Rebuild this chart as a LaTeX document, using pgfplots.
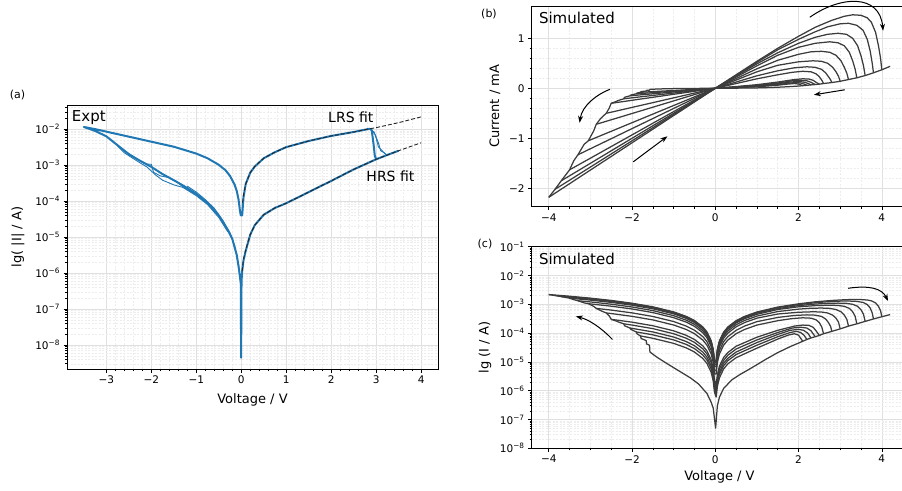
\documentclass[border=0pt]{standalone}
\usepackage{fontspec}
\setmainfont{DejaVu Sans}
\usepackage{pgfplots}
\usepackage{pgfplotstable}
\pgfplotsset{compat=1.18}
\usetikzlibrary{arrows.meta}
\definecolor{mplblue}{HTML}{1F77B4}
\definecolor{simgray}{HTML}{3C3C3C}
\newcommand{\tp}[1]{10\textsuperscript{−#1}}
\def\dec#1{2e#1,3e#1,4e#1,5e#1,6e#1,7e#1,8e#1,9e#1}
\edef\minorA{3e-9,4e-9,5e-9,6e-9,7e-9,8e-9,9e-9,\dec{-8},\dec{-7},\dec{-6},\dec{-5},\dec{-4},\dec{-3},2e-2,3e-2,4e-2}
\edef\minorC{\dec{-8},\dec{-7},\dec{-6},\dec{-5},\dec{-4},\dec{-3},\dec{-2}}

\tikzset{arr/.style={black, line width=1pt, -{Stealth[length=7pt,width=5pt]}}}
\pgfplotsset{
  myaxis/.style={
    scale only axis, clip=false,
    axis line style={black, line width=0.8pt},
    tick align=outside, tick pos=left,
    major tick length=3.5pt, minor tick length=2pt,
    tick style={black, line width=0.6pt},
    grid=both,
    major grid style={draw=black!12, line width=0.6pt},
    minor grid style={draw=black!7, dash pattern=on 2pt off 1.5pt, line width=0.5pt},
    tick label style={font=\fontsize{10.5}{12}\selectfont},
    label style={font=\fontsize{13}{15}\selectfont},
  },
  blueline/.style={draw=mplblue, line width=2pt, line join=round, no markers},
  bluethin/.style={draw=mplblue, line width=0.9pt, line join=round, no markers},
  fitline/.style={draw=black!85, line width=0.9pt, dash pattern=on 4pt off 2pt, no markers},
  simb/.style={draw=simgray, line width=1.25pt, line join=round, no markers},
  simc/.style={draw=simgray, line width=1.25pt, line join=round, no markers},
}

% ---------------- panel (a) data (current in A) ----------------
\pgfplotstableread{
V I
3.5 2.51e-3
3.25 1.92e-3
3.0 1.45e-3
2.5 7.59e-4
2.0 3.63e-4
1.5 1.78e-4
1.0 8.71e-5
0.75 6.46e-5
0.5 4.17e-5
0.3 2.14e-5
0.2 1.17e-5
0.1 4.17e-6
0.05 2.24e-6
0.02 1.12e-6
0.006 6.0e-7
-0.003 4.4e-9
-0.01 5.01e-7
-0.05 1.26e-6
-0.1 3.16e-6
-0.2 8.91e-6
-0.3 1.58e-5
-0.5 3.98e-5
-0.75 8.91e-5
-1.0 1.58e-4
-1.25 2.51e-4
-1.5 3.80e-4
-1.75 5.62e-4
-2.0 8.91e-4
-2.25 1.32e-3
-2.5 2.0e-3
-2.75 3.55e-3
-3.0 6.31e-3
-3.25 8.91e-3
-3.5 1.148e-2
-3.25 1.0e-2
-3.0 8.51e-3
-2.5 6.17e-3
-2.0 4.47e-3
-1.5 3.24e-3
-1.0 2.09e-3
-0.75 1.55e-3
-0.5 1.02e-3
-0.35 7.2e-4
-0.25 5.0e-4
-0.15 2.9e-4
-0.1 1.9e-4
-0.06 1.1e-4
-0.03 5.5e-5
-0.01 4.0e-5
0.02 4.0e-5
0.05 1.26e-4
0.1 3.02e-4
0.2 6.17e-4
0.3 9.12e-4
0.5 1.55e-3
0.75 2.29e-3
1.0 3.16e-3
1.5 4.68e-3
2.0 6.46e-3
2.5 8.32e-3
2.85 1.02e-2
2.9 9.5e-3
2.94 4.0e-3
2.97 1.8e-3
3.0 1.45e-3
}\aMain
\pgfplotstableread{
V I
-2.75 3.55e-3
-2.5 2.1e-3
-2.3 1.41e-3
-2.1 1.07e-3
-2.0 1.05e-3
-1.95 6.31e-4
-1.8 5.01e-4
-1.6 4.47e-4
-1.45 3.55e-4
-1.3 2.51e-4
-1.0 1.51e-4
-0.75 8.5e-5
}\aVarA
\pgfplotstableread{
V I
-2.75 3.4e-3
-2.6 2.19e-3
-2.3 1.26e-3
-2.1 8.91e-4
-1.9 5.25e-4
-1.75 3.80e-4
-1.5 2.82e-4
-1.3 2.40e-4
-1.0 1.41e-4
-0.75 8.0e-5
-0.5 3.5e-5
-0.3 1.4e-5
}\aVarB
\pgfplotstableread{
V I
-1.2 2.6e-4
-1.0 1.78e-4
-0.8 1.1e-4
-0.6 6.3e-5
-0.4 2.8e-5
-0.25 1.3e-5
-0.15 6.0e-6
-0.05 1.5e-6
}\aVarC
\pgfplotstableread{
V I
2.85 1.0e-2
2.95 8.5e-3
3.0 5.6e-3
3.05 3.2e-3
3.12 2.6e-3
3.2 2.05e-3
3.25 1.92e-3
}\aResB
\pgfplotstableread{
V I
2.88 9.8e-3
2.98 7.0e-3
3.06 3.8e-3
3.1 2.5e-3
3.18 2.2e-3
3.22 1.95e-3
}\aResC
\pgfplotstableread{
V I
0.03 9.1e-5
0.05 1.51e-4
0.1 3.02e-4
0.2 6.17e-4
0.3 9.12e-4
0.5 1.55e-3
0.75 2.29e-3
1.0 3.16e-3
1.5 4.68e-3
2.0 6.46e-3
2.5 8.32e-3
2.85 1.02e-2
3.0 1.1e-2
3.25 1.29e-2
3.5 1.51e-2
3.75 1.82e-2
4.0 2.19e-2
}\aLfit
\pgfplotstableread{
V I
0.02 1.12e-6
0.05 2.4e-6
0.1 4.47e-6
0.2 1.17e-5
0.3 2.14e-5
0.5 4.17e-5
0.75 6.46e-5
1.0 8.71e-5
1.5 1.78e-4
2.0 3.63e-4
2.5 7.59e-4
3.0 1.45e-3
3.5 2.51e-3
3.75 3.24e-3
4.0 4.17e-3
}\aHfit

% ---------------- panels (b),(c) data (current in mA) ----------------
\pgfplotstableread{
V I
4.2 0.44
4.0 0.37
3.8 0.31
3.6 0.255
3.4 0.21
3.2 0.175
3.0 0.14
2.8 0.115
2.6 0.095
2.5 0.083
2.4 0.075
2.3 0.068
2.2 0.06
2.1 0.052
2.0 0.045
1.8 0.034
1.5 0.021
1.2 0.012
1.0 0.008
0.8 0.0054
0.6 0.0037
0.4 0.0024
0.2 0.0012
0.1 0.0006
0.05 0.0003
0.008 0.00005
-0.05 -0.00025
-0.1 -0.0004
-0.2 -0.0008
-0.4 -0.0017
-0.6 -0.0028
-0.8 -0.0042
-1.0 -0.0063
-1.2 -0.0095
-1.4 -0.0145
-1.57 -0.022
-1.58 -0.038
-1.65 -0.042
-1.66 -0.055
-1.78 -0.065
-1.80 -0.080
-1.88 -0.095
-1.90 -0.110
-2.03 -0.135
-2.05 -0.150
-2.18 -0.18
-2.20 -0.21
-2.35 -0.25
-2.37 -0.26
-2.50 -0.30
-2.55 -0.40
-2.62 -0.50
-2.75 -0.60
-2.86 -0.72
-2.92 -0.85
-3.05 -1.05
-3.15 -1.12
-3.3 -1.33
-3.4 -1.45
-3.5 -1.63
-3.7 -1.85
-3.85 -2.02
-4.0 -2.18
}\sHRS
\pgfplotstableread{
V I
-4.0 -2.18
-3.5 -1.908
-3.0 -1.635
-2.5 -1.363
-2.0 -1.09
-1.5 -0.818
-1.0 -0.545
-0.7 -0.382
-0.5 -0.273
-0.3 -0.164
-0.2 -0.109
-0.1 -0.0545
-0.05 -0.0273
-0.02 -0.0109
0.02 0.0109
0.05 0.027
0.1 0.054
0.2 0.108
0.3 0.162
0.5 0.27
0.7 0.378
1.0 0.54
1.5 0.80
2.0 1.04
2.4 1.22
2.8 1.36
3.1 1.44
3.3 1.47
3.5 1.46
3.65 1.41
3.75 1.32
3.85 1.12
3.92 0.85
3.97 0.6
4.0 0.37
}\sA
\pgfplotstableread{
V I
-3.85 -2.02
-3.5 -1.838
-3.0 -1.575
-2.5 -1.313
-2.0 -1.05
-1.5 -0.788
-1.0 -0.525
-0.7 -0.368
-0.5 -0.263
-0.3 -0.158
-0.2 -0.105
-0.1 -0.0525
-0.05 -0.0263
-0.02 -0.0105
0.02 0.0105
0.05 0.026
0.1 0.052
0.2 0.104
0.3 0.156
0.5 0.26
0.7 0.364
1.0 0.52
1.5 0.77
2.0 0.98
2.4 1.13
2.7 1.23
3.0 1.29
3.2 1.30
3.4 1.26
3.55 1.16
3.65 0.98
3.72 0.75
3.77 0.5
3.8 0.31
}\sB
\pgfplotstableread{
V I
-3.7 -1.85
-3.5 -1.75
-3.0 -1.5
-2.5 -1.25
-2.0 -1.0
-1.5 -0.75
-1.0 -0.5
-0.7 -0.35
-0.5 -0.25
-0.3 -0.15
-0.2 -0.1
-0.1 -0.05
-0.05 -0.025
-0.02 -0.01
0.02 0.01
0.05 0.0245
0.1 0.049
0.2 0.098
0.3 0.147
0.5 0.245
0.7 0.343
1.0 0.49
1.5 0.71
2.0 0.9
2.4 1.02
2.7 1.08
2.95 1.10
3.15 1.08
3.3 1.0
3.42 0.85
3.5 0.65
3.56 0.45
3.6 0.255
}\sC
\pgfplotstableread{
V I
-3.5 -1.63
-3.0 -1.398
-2.5 -1.165
-2.0 -0.932
-1.5 -0.699
-1.0 -0.466
-0.7 -0.326
-0.5 -0.233
-0.3 -0.14
-0.2 -0.0932
-0.1 -0.0466
-0.05 -0.0233
-0.02 -0.0093
0.02 0.0093
0.05 0.0225
0.1 0.045
0.2 0.09
0.3 0.135
0.5 0.225
0.7 0.315
1.0 0.45
1.5 0.66
2.0 0.82
2.4 0.9
2.75 0.93
2.95 0.91
3.1 0.85
3.22 0.72
3.3 0.55
3.36 0.38
3.4 0.21
}\sD
\pgfplotstableread{
V I
-3.3 -1.33
-3.0 -1.209
-2.5 -1.008
-2.0 -0.806
-1.5 -0.605
-1.0 -0.403
-0.7 -0.282
-0.5 -0.202
-0.3 -0.121
-0.2 -0.0806
-0.1 -0.0403
-0.05 -0.0202
-0.02 -0.0081
0.02 0.0081
0.05 0.0195
0.1 0.039
0.2 0.078
0.3 0.117
0.5 0.195
0.7 0.273
1.0 0.39
1.5 0.56
2.0 0.68
2.3 0.73
2.55 0.74
2.75 0.72
2.9 0.66
3.02 0.55
3.1 0.42
3.16 0.3
3.2 0.175
}\sE
\pgfplotstableread{
V I
-3.05 -1.05
-3.0 -1.032
-2.5 -0.86
-2.0 -0.688
-1.5 -0.516
-1.0 -0.344
-0.7 -0.241
-0.5 -0.172
-0.3 -0.103
-0.2 -0.0688
-0.1 -0.0344
-0.05 -0.0172
-0.02 -0.0069
0.02 0.0069
0.05 0.0165
0.1 0.033
0.2 0.066
0.3 0.099
0.5 0.165
0.7 0.231
1.0 0.33
1.5 0.46
2.0 0.53
2.35 0.55
2.55 0.54
2.7 0.5
2.82 0.42
2.9 0.33
2.96 0.24
3.0 0.14
}\sF
\pgfplotstableread{
V I
-2.86 -0.72
-2.5 -0.63
-2.0 -0.504
-1.5 -0.378
-1.0 -0.252
-0.7 -0.176
-0.5 -0.126
-0.3 -0.0756
-0.2 -0.0504
-0.1 -0.0252
-0.05 -0.0126
-0.02 -0.005
0.02 0.005
0.05 0.0125
0.1 0.025
0.2 0.05
0.3 0.075
0.5 0.125
0.7 0.175
1.0 0.25
1.5 0.35
1.9 0.41
2.2 0.43
2.4 0.42
2.55 0.38
2.65 0.31
2.72 0.23
2.77 0.17
2.8 0.115
}\sG
\pgfplotstableread{
V I
-2.62 -0.5
-2.5 -0.478
-2.0 -0.382
-1.5 -0.287
-1.0 -0.191
-0.7 -0.134
-0.5 -0.0955
-0.3 -0.0573
-0.2 -0.0382
-0.1 -0.0191
-0.05 -0.0096
-0.02 -0.0038
0.02 0.0038
0.05 0.0095
0.1 0.019
0.2 0.038
0.3 0.057
0.5 0.095
0.7 0.133
1.0 0.19
1.5 0.27
1.85 0.32
2.1 0.34
2.3 0.33
2.42 0.29
2.5 0.23
2.56 0.16
2.6 0.095
}\sH
\pgfplotstableread{
V I
-2.5 -0.30
-2.0 -0.24
-1.5 -0.18
-1.0 -0.12
-0.7 -0.084
-0.5 -0.06
-0.3 -0.036
-0.2 -0.024
-0.1 -0.012
-0.05 -0.006
-0.02 -0.0024
0.02 0.0015
0.05 0.0036
0.1 0.0072
0.2 0.0142
0.3 0.021
0.5 0.035
1.0 0.072
1.5 0.125
1.9 0.175
2.1 0.19
2.25 0.185
2.35 0.16
2.42 0.12
2.5 0.083
}\sI
\pgfplotstableread{
V I
-2.2 -0.21
-2.0 -0.19
-1.5 -0.143
-1.0 -0.095
-0.7 -0.0665
-0.5 -0.0475
-0.3 -0.0285
-0.2 -0.019
-0.1 -0.0095
-0.05 -0.0048
-0.02 -0.0019
0.02 0.0012
0.05 0.0029
0.1 0.0057
0.2 0.0113
0.3 0.017
0.5 0.028
1.0 0.058
1.5 0.105
1.85 0.15
2.05 0.16
2.2 0.15
2.3 0.12
2.4 0.075
}\sJ
\pgfplotstableread{
V I
-2.05 -0.15
-2.0 -0.146
-1.5 -0.11
-1.0 -0.073
-0.7 -0.0511
-0.5 -0.0365
-0.3 -0.0219
-0.2 -0.0146
-0.1 -0.0073
-0.05 -0.0037
-0.02 -0.0015
0.02 0.001
0.05 0.0023
0.1 0.0045
0.2 0.009
0.3 0.0133
0.5 0.022
1.0 0.047
1.5 0.09
1.8 0.125
2.0 0.135
2.12 0.125
2.22 0.1
2.3 0.068
}\sK
\pgfplotstableread{
V I
-1.9 -0.11
-1.5 -0.087
-1.0 -0.058
-0.7 -0.0406
-0.5 -0.029
-0.3 -0.0174
-0.2 -0.0116
-0.1 -0.0058
-0.05 -0.0029
-0.02 -0.0012
0.02 0.0008
0.05 0.0019
0.1 0.0037
0.2 0.0073
0.3 0.011
0.5 0.018
1.0 0.038
1.5 0.075
1.8 0.105
1.95 0.115
2.05 0.105
2.13 0.085
2.2 0.06
}\sL
\pgfplotstableread{
V I
-1.8 -0.08
-1.5 -0.066
-1.0 -0.044
-0.7 -0.0308
-0.5 -0.022
-0.3 -0.0132
-0.2 -0.0088
-0.1 -0.0044
-0.05 -0.0022
-0.02 -0.0009
0.02 0.0006
0.05 0.0014
0.1 0.0028
0.2 0.0057
0.3 0.0085
0.5 0.014
1.0 0.03
1.5 0.062
1.75 0.085
1.9 0.095
2.0 0.085
2.1 0.052
}\sM

\begin{document}
\begin{tikzpicture}
% ================= (a) =================
\begin{axis}[myaxis,
  at={(67pt,121pt)}, anchor=south west, width=371pt, height=264pt,
  ymode=log, xmin=-3.875, xmax=4.375, ymin=2.15e-9, ymax=4.68e-2,
  xtick={-3,-2,-1,0,1,2,3,4}, xticklabels={−3,−2,−1,0,1,2,3,4},
  minor x tick num=4,
  ytick={1e-8,1e-7,1e-6,1e-5,1e-4,1e-3,1e-2},
  yticklabels={\tp{8},\tp{7},\tp{6},\tp{5},\tp{4},\tp{3},\tp{2}},
  minor ytick/.expanded={\minorA},
  xlabel={Voltage / V}, ylabel={lg( |I| / A)},
  xlabel style={at={(axis description cs:0.5,-0.117)}, anchor=center},
  ylabel style={at={(axis description cs:-0.132,0.5)}, anchor=center},
]
\addplot[bluethin] table[x=V,y=I] {\aVarA};
\addplot[bluethin] table[x=V,y=I] {\aVarB};
\addplot[bluethin] table[x=V,y=I] {\aVarC};
\addplot[bluethin] table[x=V,y=I] {\aResB};
\addplot[bluethin] table[x=V,y=I] {\aResC};
\addplot[blueline] table[x=V,y=I] {\aMain};
\addplot[fitline] table[x=V,y=I] {\aLfit};
\addplot[fitline] table[x=V,y=I] {\aHfit};
\node[anchor=north west, inner sep=0pt, font=\fontsize{15}{17}\selectfont] at (rel axis cs:0.0127,0.981) {Expt};
\node[anchor=north west, inner sep=0pt, font=\fontsize{14}{16}\selectfont] at (axis cs:1.93,3.0e-2) {LRS fit};
\node[anchor=north west, inner sep=0pt, font=\fontsize{14}{16}\selectfont] at (axis cs:2.78,7.2e-4) {HRS fit};
\end{axis}

% ================= (b) =================
\begin{axis}[myaxis,
  at={(531.7pt,283.3pt)}, anchor=south west, width=375.5pt, height=200.7pt,
  xmin=-4.41, xmax=4.61, ymin=-2.368, ymax=1.646,
  xtick={-4,-2,0,2,4}, xticklabels={−4,−2,0,2,4}, minor x tick num=3,
  ytick={-2,-1,0,1}, yticklabels={−2,−1,0,1}, minor y tick num=4,
  ylabel={Current / mA},
  ylabel style={at={(axis description cs:-0.098,0.5)}, anchor=center},
]
\addplot[simb] table[x=V,y=I] {\sM};
\addplot[simb] table[x=V,y=I] {\sL};
\addplot[simb] table[x=V,y=I] {\sK};
\addplot[simb] table[x=V,y=I] {\sJ};
\addplot[simb] table[x=V,y=I] {\sI};
\addplot[simb] table[x=V,y=I] {\sH};
\addplot[simb] table[x=V,y=I] {\sG};
\addplot[simb] table[x=V,y=I] {\sF};
\addplot[simb] table[x=V,y=I] {\sE};
\addplot[simb] table[x=V,y=I] {\sD};
\addplot[simb] table[x=V,y=I] {\sC};
\addplot[simb] table[x=V,y=I] {\sB};
\addplot[simb] table[x=V,y=I] {\sA};
\addplot[simb] table[x=V,y=I] {\sHRS};
\node[anchor=north west, inner sep=0pt, font=\fontsize{15}{17}\selectfont] at (rel axis cs:0.019,0.9716) {Simulated};
\draw[arr] (axis cs:2.27,1.42) .. controls (axis cs:3.0,1.85) and (axis cs:3.95,1.9) .. (axis cs:4.03,1.15);
\draw[arr] (axis cs:3.11,-0.03) -- (axis cs:2.37,-0.13);
\draw[arr] (axis cs:-2.53,-0.02) .. controls (axis cs:-2.85,-0.12) and (axis cs:-3.2,-0.35) .. (axis cs:-3.26,-0.69);
\draw[arr] (axis cs:-1.97,-1.47) -- (axis cs:-1.15,-0.96);
\end{axis}

% ================= (c) =================
\begin{axis}[myaxis,
  at={(531.7pt,41.7pt)}, anchor=south west, width=375.5pt, height=201.6pt,
  ymode=log, xmin=-4.41, xmax=4.61, ymin=1e-8, ymax=1e-1,
  xtick={-4,-2,0,2,4}, xticklabels={−4,−2,0,2,4}, minor x tick num=3,
  ytick={1e-8,1e-7,1e-6,1e-5,1e-4,1e-3,1e-2,1e-1},
  yticklabels={\tp{8},\tp{7},\tp{6},\tp{5},\tp{4},\tp{3},\tp{2},\tp{1}},
  minor ytick/.expanded={\minorC},
  xlabel={Voltage / V}, ylabel={lg (I / A)},
  xlabel style={at={(axis description cs:0.5,-0.141)}, anchor=center},
  ylabel style={at={(axis description cs:-0.124,0.5)}, anchor=center},
]
\addplot[simc] table[x=V,y expr={abs(\thisrow{I})*0.001}] {\sM};
\addplot[simc] table[x=V,y expr={abs(\thisrow{I})*0.001}] {\sL};
\addplot[simc] table[x=V,y expr={abs(\thisrow{I})*0.001}] {\sK};
\addplot[simc] table[x=V,y expr={abs(\thisrow{I})*0.001}] {\sJ};
\addplot[simc] table[x=V,y expr={abs(\thisrow{I})*0.001}] {\sI};
\addplot[simc] table[x=V,y expr={abs(\thisrow{I})*0.001}] {\sH};
\addplot[simc] table[x=V,y expr={abs(\thisrow{I})*0.001}] {\sG};
\addplot[simc] table[x=V,y expr={abs(\thisrow{I})*0.001}] {\sF};
\addplot[simc] table[x=V,y expr={abs(\thisrow{I})*0.001}] {\sE};
\addplot[simc] table[x=V,y expr={abs(\thisrow{I})*0.001}] {\sD};
\addplot[simc] table[x=V,y expr={abs(\thisrow{I})*0.001}] {\sC};
\addplot[simc] table[x=V,y expr={abs(\thisrow{I})*0.001}] {\sB};
\addplot[simc] table[x=V,y expr={abs(\thisrow{I})*0.001}] {\sA};
\addplot[simc] table[x=V,y expr={abs(\thisrow{I})*0.001}] {\sHRS};
\node[anchor=north west, inner sep=0pt, font=\fontsize{15}{17}\selectfont] at (rel axis cs:0.019,0.967) {Simulated};
\draw[arr] (axis cs:3.19,3.6e-3) .. controls (axis cs:3.7,4.6e-3) and (axis cs:4.0,3.6e-3) .. (axis cs:4.15,1.3e-3);
\draw[arr] (axis cs:-2.47,6.0e-5) .. controls (axis cs:-2.75,1.6e-4) and (axis cs:-3.05,3.0e-4) .. (axis cs:-3.35,3.8e-4);
\end{axis}

\node[font=\fontsize{11}{13}\selectfont] at (17.5pt,395pt) {(a)};
\node[font=\fontsize{11}{13}\selectfont] at (489pt,475.7pt) {(b)};
\node[font=\fontsize{11}{13}\selectfont] at (485pt,246pt) {(c)};
\pgfresetboundingbox
\path[use as bounding box] (0,0) rectangle (902pt,490pt);
\end{tikzpicture}
\end{document}
